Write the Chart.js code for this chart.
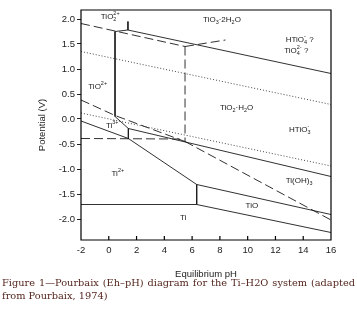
<!DOCTYPE html>
<html>
<head>
<meta charset="utf-8">
<script src="https://cdn.jsdelivr.net/npm/chart.js@4.4.1/dist/chart.umd.min.js"></script>
<style>
  html, body { margin: 0; padding: 0; background: #fff; }
  #wrap { position: relative; width: 357px; height: 315px; overflow: hidden; }
  #c { position: absolute; left: 0; top: 0; }
  #caption { position: absolute; left: 2px; top: 277px; width: 353px;
    font-family: "DejaVu Serif", "Liberation Serif", serif; font-size: 9.8px;
    line-height: 12.5px; color: #4e1f17; }
  #caption .l1 { text-align: justify; text-align-last: justify; }
</style>
</head>
<body>
<div id="wrap">
  <canvas id="c" width="357" height="315"></canvas>
  <div id="caption">
    <div class="l1">Figure 1—Pourbaix (Eh–pH) diagram for the Ti–H2O system (adapted</div>
    <div>from Pourbaix, 1974)</div>
  </div>
</div>
<script>
//ejes
const xTicks = [-2, 0, 2, 4, 6, 8, 10, 12, 14, 16];
const yTicks = [-2.0, -1.5, -1.0, -0.5, 0.0, 0.5, 1.0, 1.5, 2.0];

//lineas continuas (pH, potencial V)
const peroxPH = [0.45, 1.38, 16];
const peroxV = [1.75, 1.78, 0.91];
const peroxTickPH = [1.38, 1.38];
const peroxTickV = [1.95, 1.78];
const tioVertPH = [0.45, 0.45];
const tioVertV = [1.75, 0.05];
const ti3UpperPH = [0.45, 1.41, 16];
const ti3UpperV = [0.05, -0.19, -1.15];
const ti3VertPH = [1.41, 1.41];
const ti3VertV = [-0.19, -0.39];
const ti2UpperPH = [-2, 1.41, 6.33];
const ti2UpperV = [-0.04, -0.39, -1.31];
const tiOVertPH = [6.33, 6.33];
const tiOVertV = [-1.31, -1.71];
const tiMetalPH = [-2, 6.33];
const tiMetalV = [-1.71, -1.71];
const tiOUpperPH = [6.33, 16];
const tiOUpperV = [-1.31, -1.91];
const tiOLowerPH = [6.33, 16];
const tiOLowerV = [-1.71, -2.27];

//lineas de trazos
const dashTopPH = [-2, 5.49];
const dashTopV = [1.91, 1.45];
const dashRisePH = [5.49, 8.4];
const dashRiseV = [1.45, 1.58];
const dashVertPH = [5.49, 5.49];
const dashVertV = [1.45, -0.45];
const dashMidPH = [-2, 0.45, 5.49];
const dashMidV = [0.38, 0.07, -0.45];
const dashFlatPH = [-2, 5.1];
const dashFlatV = [-0.39, -0.40];
const dashDiagPH = [5.49, 16];
const dashDiagV = [-0.45, -2.02];

//lineas punteadas (agua)
const oxygenPH = [-2, 16];
const oxygenV = [1.35, 0.29];
const hydrogenPH = [-2, 16];
const hydrogenV = [0.12, -0.94];

//etiquetas de regiones
const regionNames = ['TiO_2^{2+}', 'TiO_3·2H_2O', 'HTiO_4^- ?', 'TiO_4^{2-} ?', 'TiO^{2+}',
  'TiO_2·H_2O', 'HTiO_3^-', 'Ti^{3+}', 'Ti^{2+}', 'Ti(OH)_3', 'TiO', 'Ti'];
const regionPH = [0.1, 8.15, 13.75, 13.5, -0.8, 9.2, 13.75, 0.25, 0.65, 13.7, 10.3, 5.35];
const regionV = [2.04, 1.98, 1.58, 1.36, 0.64, 0.22, -0.22, -0.14, -1.10, -1.24, -1.74, -1.98];

const lineas = [
  [peroxPH, peroxV, 's'], [peroxTickPH, peroxTickV, 's'], [tioVertPH, tioVertV, 's'],
  [ti3UpperPH, ti3UpperV, 's'], [ti3VertPH, ti3VertV, 's'], [ti2UpperPH, ti2UpperV, 's'],
  [tiOVertPH, tiOVertV, 's'], [tiMetalPH, tiMetalV, 's'], [tiOUpperPH, tiOUpperV, 's'],
  [tiOLowerPH, tiOLowerV, 's'],
  [dashTopPH, dashTopV, 'd'], [dashRisePH, dashRiseV, 'd'], [dashVertPH, dashVertV, 'd'],
  [dashMidPH, dashMidV, 'd'], [dashFlatPH, dashFlatV, 'd'], [dashDiagPH, dashDiagV, 'd'],
  [oxygenPH, oxygenV, 'p'], [hydrogenPH, hydrogenV, 'p']
];

const datasets = lineas.map(([xs, ys, tipo]) => ({
  data: xs.map((x, i) => ({ x: x, y: ys[i] })),
  showLine: true,
  fill: false,
  tension: 0,
  pointRadius: 0,
  borderColor: tipo === 'p' ? '#444' : '#1a1a1a',
  borderWidth: tipo === 'p' ? 1 : 0.9,
  borderDash: tipo === 'd' ? [9, 4] : (tipo === 'p' ? [1, 2] : [])
}));

//texto con subindices / superindices
function parseRich(str) {
  const parts = [];
  let i = 0;
  while (i < str.length) {
    const c = str[i];
    if (c === '_' || c === '^') {
      let t;
      if (str[i + 1] === '{') { const j = str.indexOf('}', i); t = str.slice(i + 2, j); i = j + 1; }
      else { t = str[i + 1]; i += 2; }
      parts.push({ t: t, m: c });
    } else {
      let j = i;
      while (j < str.length && str[j] !== '_' && str[j] !== '^') j++;
      parts.push({ t: str.slice(i, j), m: '' });
      i = j;
    }
  }
  return parts;
}

function drawRich(ctx, str, cx, cy, size) {
  const parts = parseRich(str);
  const big = size + 'px "Liberation Sans", Arial, sans-serif';
  const small = (size * 0.68) + 'px "Liberation Sans", Arial, sans-serif';
  const items = [];
  let w = 0;
  for (let k = 0; k < parts.length; k++) {
    const p = parts[k];
    if (p.m === '') {
      ctx.font = big;
      const pw = ctx.measureText(p.t).width;
      items.push({ t: p.t, f: big, x: w, dy: 0 });
      w += pw;
    } else {
      ctx.font = small;
      let pw = ctx.measureText(p.t).width;
      items.push({ t: p.t, f: small, x: w, dy: p.m === '_' ? size * 0.3 : -size * 0.38 });
      const q = parts[k + 1];
      if (q && q.m !== '' && q.m !== p.m) {
        const qw = ctx.measureText(q.t).width;
        items.push({ t: q.t, f: small, x: w, dy: q.m === '_' ? size * 0.3 : -size * 0.38 });
        pw = Math.max(pw, qw);
        k++;
      }
      w += pw;
    }
  }
  const x0 = cx - w / 2;
  ctx.textBaseline = 'middle';
  ctx.textAlign = 'left';
  items.forEach(it => { ctx.font = it.f; ctx.fillText(it.t, x0 + it.x, cy + it.dy); });
}

//etiquetas, marco y marcas del eje x hacia dentro
const regionLabels = {
  id: 'regionLabels',
  afterDatasetsDraw(chart) {
    const ctx = chart.ctx;
    const a = chart.chartArea;
    const sx = chart.scales.x;
    const sy = chart.scales.y;
    ctx.save();
    ctx.fillStyle = '#1a1a1a';
    regionNames.forEach((n, i) => {
      drawRich(ctx, n, sx.getPixelForValue(regionPH[i]), sy.getPixelForValue(regionV[i]), 8);
    });
    ctx.setLineDash([]);
    ctx.strokeStyle = '#000';
    ctx.lineWidth = 1.2;
    ctx.beginPath();
    ctx.rect(a.left, a.top, a.right - a.left, a.bottom - a.top);
    xTicks.forEach(v => {
      const px = sx.getPixelForValue(v);
      ctx.moveTo(px, a.bottom);
      ctx.lineTo(px, a.bottom - 4);
    });
    ctx.stroke();
    ctx.restore();
  }
};

const fuente = { family: '"Liberation Sans", Arial, sans-serif', size: 9.5 };

const chart = new Chart(document.getElementById('c'), {
  type: 'scatter',
  data: { datasets: datasets },
  options: {
    responsive: false,
    animation: false,
    layout: { padding: { left: 0, top: 10, right: 26, bottom: 35 } },
    plugins: {
      legend: { display: false },
      tooltip: { enabled: false }
    },
    scales: {
      x: {
        type: 'linear',
        min: -2,
        max: 16,
        afterBuildTicks: s => { s.ticks = xTicks.map(v => ({ value: v })); },
        afterFit: s => { s.height = 40; },
        grid: { display: false, drawTicks: false },
        border: { display: false },
        ticks: { padding: 5, color: '#222', font: fuente, maxRotation: 0, autoSkip: false },
        title: { display: true, text: 'Equilibrium pH', color: '#222', font: fuente, padding: { top: 2, bottom: 0 } }
      },
      y: {
        type: 'linear',
        min: -2.42,
        max: 2.18,
        afterBuildTicks: s => { s.ticks = yTicks.map(v => ({ value: v })); },
        afterFit: s => { s.width = 81; },
        grid: { display: true, drawOnChartArea: false, drawTicks: true, tickLength: 4, color: '#222' },
        border: { display: false },
        ticks: { padding: 2, color: '#222', font: fuente, autoSkip: false, callback: v => v.toFixed(1) },
        title: { display: true, text: 'Potential (V)', color: '#222', font: fuente, padding: { top: 37, bottom: 0 } }
      }
    }
  },
  plugins: [regionLabels]
});
</script>
</body>
</html>
